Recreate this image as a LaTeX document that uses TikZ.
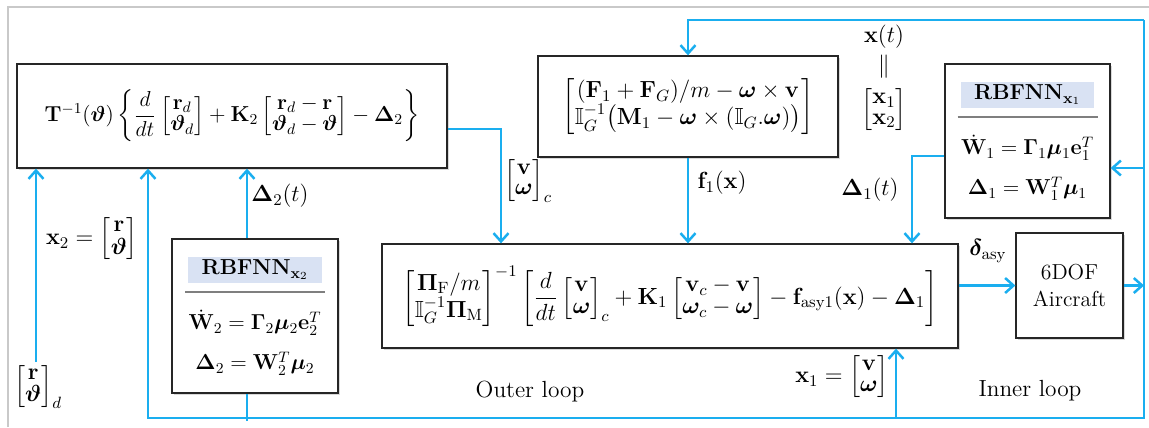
\RequirePackage{fix-cm}
\documentclass[tikz,border=0pt]{standalone}
\usepackage{amsmath}
\usepackage{amssymb}
\usepackage{bm}
\usepackage{xcolor}
\usetikzlibrary{arrows.meta,shadows}
\definecolor{sigblue}{HTML}{1AAEEF}
\definecolor{headblue}{HTML}{D9E2F3}
\definecolor{rulegray}{HTML}{7F7F7F}
\definecolor{framegray}{HTML}{C9C9C9}
\renewcommand{\arraystretch}{0.78}
\tikzset{
  ctrlbox/.style={draw=black!85,line width=0.8pt,fill=white,drop shadow={shadow xshift=1.2pt,shadow yshift=-1.2pt,opacity=0.3},inner sep=2pt,font=\fontsize{13}{16}\selectfont},
  sigarrow/.style={-{Straight Barb[length=5pt,width=9pt]},draw=sigblue,line width=1.5pt},
  sigwire/.style={draw=sigblue,line width=1.5pt},
  siglabel/.style={inner sep=0pt,font=\fontsize{14}{17}\selectfont\def\arraystretch{0.72}},
}

\begin{document}
\begin{tikzpicture}[x=0.6pt,y=-0.6pt]
\useasboundingbox (0,0) rectangle (1149,427);
\draw[framegray,line width=1.2pt] (8,427) -- (8,7) -- (1149,7);

% blocks
\node[ctrlbox,minimum width=258pt,minimum height=62.4pt] (outer) at (232,116) {$\mathbf T^{-1}(\bm\vartheta)\left\{\dfrac{d}{dt}\begin{bmatrix}\mathbf r_d\\ \bm\vartheta_d\end{bmatrix}+\mathbf K_2\begin{bmatrix}\mathbf r_d-\mathbf r\\ \bm\vartheta_d-\bm\vartheta\end{bmatrix}-\bm\Delta_2\right\}$};
\node[ctrlbox,font=\fontsize{14}{17}\selectfont,minimum width=180pt,minimum height=60.6pt] (dyn) at (688,106.5) {$\begin{bmatrix}(\mathbf F_1+\mathbf F_G)/m-\bm\omega\times\mathbf v\\ \mathbb I_G^{-1}\big(\mathbf M_1-\bm\omega\times(\mathbb I_G.\bm\omega)\big)\end{bmatrix}$};
\node[ctrlbox,minimum width=99pt,minimum height=92.4pt,align=center] (nnone) at (1027.5,141) {{\fboxsep=2pt\colorbox{headblue}{\makebox[76pt]{\textbf{RBFNN}$_{\mathbf x_1}$}}}\\[-5pt]
  {\color{rulegray}\rule{84pt}{1.5pt}}\\[6pt]
  $\dot{\mathbf W}_1=\bm\Gamma_1\bm\mu_1\mathbf e_1^T$\\[8pt]
  $\bm\Delta_1=\mathbf W_1^T\bm\mu_1$};
\node[ctrlbox,minimum width=99.6pt,minimum height=92.4pt,align=center] (nntwo) at (255,316) {{\fboxsep=2pt\colorbox{headblue}{\makebox[76pt]{\textbf{RBFNN}$_{\mathbf x_2}$}}}\\[-5pt]
  {\color{rulegray}\rule{84pt}{1.5pt}}\\[6pt]
  $\dot{\mathbf W}_2=\bm\Gamma_2\bm\mu_2\mathbf e_2^T$\\[8pt]
  $\bm\Delta_2=\mathbf W_2^T\bm\mu_2$};
\node[ctrlbox,font=\fontsize{14}{17}\selectfont,minimum width=345.6pt,minimum height=62.4pt] (inner) at (670,296) {$\begin{bmatrix}\bm\Pi_{\mathrm F}/m\\ \mathbb I_G^{-1}\bm\Pi_{\mathrm M}\end{bmatrix}^{-1}\left[\dfrac{d}{dt}\begin{bmatrix}\mathbf v\\ \bm\omega\end{bmatrix}_c+\mathbf K_1\begin{bmatrix}\mathbf v_c-\mathbf v\\ \bm\omega_c-\bm\omega\end{bmatrix}-\mathbf f_{\mathrm{asy1}}(\mathbf x)-\bm\Delta_1\right]$};
\node[ctrlbox,minimum width=64.2pt,minimum height=63pt,align=center] (plant) at (1069.5,285.5) {6DOF\\Aircraft};

% routing points
\coordinate (tr) at (1144,20);
\coordinate (br) at (1144,418);
\coordinate (bl) at (148,418);
\coordinate (rd) at (36,362);
\coordinate (xtwo) at (247,421);
\coordinate (xone) at (896,418);
\coordinate (vwc) at (501,129);
\coordinate (dlt) at (912,156);
\coordinate (cin) at (1144,168);

\draw[sigarrow] (tr) -| (dyn.north);
\draw[sigarrow] (tr) -- (br) -| (outer.south -| bl);
\draw[sigarrow] (plant.east) -- (plant.east -| tr);
\draw[sigarrow] (cin) -- (nnone.east |- cin);
\draw[sigarrow] (xone) -- (inner.south -| xone);
\draw[sigwire] (xtwo) -- (nntwo.south -| xtwo);
\draw[sigarrow] (nntwo.north -| xtwo) -- (outer.south -| xtwo);
\draw[sigarrow] (rd) -- (outer.south -| rd);
\draw[sigarrow] (outer.east |- vwc) -- (vwc) -- (inner.north -| vwc);
\draw[sigarrow] (dyn.south) -- (inner.north -| dyn.south);
\draw[sigarrow] (nnone.west |- dlt) -- (dlt) -- (inner.north -| dlt);
\draw[sigarrow] (inner.east |- plant.west) -- (plant.west);

% signal labels
\node[siglabel] (vwclab) at (528,181) {$\begin{bmatrix}\mathbf v\\ \bm\omega\end{bmatrix}_c$};
\node[siglabel] (flab) at (722,183) {$\mathbf f_1(\mathbf x)$};
\node[siglabel] (xlab) at (884,78) {$\begin{array}{c}\mathbf x(t)\\[4pt] \|\\[6pt] \begin{bmatrix}\mathbf x_1\\ \mathbf x_2\end{bmatrix}\end{array}$};
\node[siglabel] (dlabone) at (870,190) {$\bm\Delta_1(t)$};
\node[siglabel] (dasy) at (988,251) {$\bm\delta_{\mathrm{asy}}$};
\node[siglabel] (xonelab) at (842,377) {$\mathbf x_1=\begin{bmatrix}\mathbf v\\ \bm\omega\end{bmatrix}$};
\node[siglabel] (xtwolab) at (92,239) {$\mathbf x_2=\begin{bmatrix}\mathbf r\\ \bm\vartheta\end{bmatrix}$};
\node[siglabel] (dlabtwo) at (280,196) {$\bm\Delta_2(t)$};
\node[siglabel] (rdlab) at (38,387) {$\begin{bmatrix}\mathbf r\\ \bm\vartheta\end{bmatrix}_d$};
\node[siglabel] (outerlab) at (530,392) {Outer loop};
\node[siglabel] (innerlab) at (1030,391) {Inner loop};
\end{tikzpicture}
\end{document}
